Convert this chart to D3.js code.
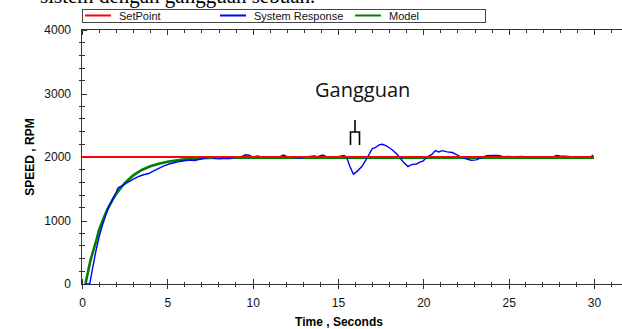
<!DOCTYPE html>
<html>
<head>
<meta charset="utf-8">
<script src="https://cdn.jsdelivr.net/npm/d3@7"></script>
<style>
  body { margin: 0; background: #fff; }
  svg { display: block; }
  .axis path, .axis line { stroke: #333; shape-rendering: crispEdges; }
  .axis text { fill: #111; font-family: Arial, "Liberation Sans", sans-serif; font-size: 12px; }
</style>
</head>
<body>
<div id="chart"></div>
<script>
// values
const setpointTime = [0, 30];
const setpointSpeed = [2000, 2000];

const modelTime = [0.2, 0.5, 0.8, 1, 1.3, 1.5, 1.8, 2, 2.5, 3, 3.5, 4, 4.5, 5, 6, 7, 8, 9, 30];
const modelSpeed = [0, 375, 650, 850, 1060, 1185, 1330, 1420, 1590, 1710, 1795, 1855, 1895, 1925, 1962, 1980, 1988, 1990, 1990];

const responseTime = [0.2, 0.45, 0.6, 0.8, 1.0, 1.2, 1.4, 1.6, 1.8, 2.0, 2.1, 2.2, 2.4, 2.6, 2.8, 3.0, 3.3, 3.6, 3.9,
  4.2, 4.5, 4.8, 5.1, 5.4, 5.7, 6.0, 6.3, 6.6, 6.9, 7.2, 7.5, 7.8, 8.1, 8.4, 8.7, 9.0, 9.3, 9.6, 9.8, 10.0,
  10.3, 10.5, 11.0, 11.6, 11.8, 12.0, 12.4, 12.8, 13.1, 13.6, 13.8, 14.1, 14.3, 14.6, 15.0, 15.35, 15.5, 15.7,
  15.9, 16.1, 16.4, 16.6, 16.8, 17.0, 17.2, 17.4, 17.6, 17.8, 18.1, 18.4, 18.6, 18.8, 19.1, 19.3, 19.6, 19.8,
  20.0, 20.2, 20.5, 20.7, 20.9, 21.1, 21.4, 21.7, 22.0, 22.2, 22.5, 22.8, 23.1, 23.4, 23.7, 24.0, 24.4, 24.7,
  25.0, 25.2, 25.8, 26.0, 27.6, 27.8, 28.0, 28.5, 28.7, 29.8, 29.95];
const responseSpeed = [0, 0, 220, 500, 740, 930, 1090, 1230, 1340, 1440, 1510, 1530, 1550, 1590, 1620, 1650, 1690, 1720, 1740,
  1780, 1820, 1860, 1890, 1910, 1930, 1940, 1950, 1945, 1965, 1985, 2000, 1975, 1970, 1980, 1975, 1995, 2000, 2035, 2030, 2000,
  2015, 2000, 2000, 2005, 2030, 2010, 1990, 1985, 2000, 2015, 2005, 2030, 2010, 2000, 2005, 2025, 2000, 1850,
  1730, 1770, 1850, 1940, 2030, 2130, 2150, 2190, 2200, 2180, 2130, 2060, 2000, 1930, 1850, 1880, 1890, 1920,
  1940, 2000, 2040, 2100, 2080, 2100, 2080, 2070, 2030, 2000, 1970, 1950, 1955, 1990, 2020, 2025, 2025, 2005,
  2010, 2000, 2010, 2000, 2000, 2025, 2015, 2010, 2000, 2000, 2030];

const xTicks = [0, 5, 10, 15, 20, 25, 30];
const yTicks = [0, 1000, 2000, 3000, 4000];
const legendNames = ["SetPoint", "System Response", "Model"];
const legendColors = ["#ff0000", "#0000ff", "#008000"];

const width = 622, height = 329;
const svg = d3.select("#chart").append("svg")
  .attr("width", width).attr("height", height);

// cut-off caption line from the page above the chart
svg.append("text")
  .attr("x", 40).attr("y", 3)
  .attr("font-family", "'Liberation Serif', 'Times New Roman', serif")
  .attr("font-size", 21)
  .attr("fill", "#000")
  .text("sistem dengan gangguan sebuah.");

const x = d3.scaleLinear().domain([0, 32]).range([82, 82 + 32 * 17.067]);
const y = d3.scaleLinear().domain([0, 4000]).range([284, 30]);

// top frame line with ticks pointing down
const topAxis = svg.append("g").attr("class", "axis");
topAxis.append("line").attr("x1", 81).attr("x2", width).attr("y1", 29.5).attr("y2", 29.5).attr("stroke", "#888");
topAxis.selectAll(".tk").data(d3.range(0, 32, 1)).enter().append("line")
  .attr("x1", d => Math.round(x(d)) + 0.5).attr("x2", d => Math.round(x(d)) + 0.5)
  .attr("y1", 29.5).attr("y2", d => d % 5 === 0 ? 35 : 32.5)
  .attr("stroke", "#555");

// bottom axis
const gx = svg.append("g").attr("class", "axis")
  .attr("transform", "translate(0,284)")
  .call(d3.axisBottom(x).tickValues(xTicks).tickSize(5).tickPadding(9).tickFormat(d3.format("d")));
gx.select(".domain").remove();
gx.append("line").attr("x1", 81).attr("x2", width).attr("stroke", "#333");
gx.selectAll(".tick line").attr("y1", -5);
gx.selectAll(".minor").data(d3.range(1, 32, 1).filter(d => d % 5 !== 0)).enter().append("line")
  .attr("x1", d => x(d)).attr("x2", d => x(d)).attr("y1", -2.5).attr("y2", 2.5).attr("stroke", "#333");

// left axis
const gy = svg.append("g").attr("class", "axis")
  .attr("transform", "translate(81,0)")
  .call(d3.axisLeft(y).tickValues(yTicks).tickSize(4).tickPadding(6).tickFormat(d3.format("d")));
gy.select(".domain").remove();
gy.append("line").attr("y1", 29.5).attr("y2", 284).attr("stroke", "#333");
gy.selectAll(".tick line").attr("x2", 6);
gy.selectAll(".minor").data(d3.range(200, 4000, 200).filter(d => d % 1000 !== 0)).enter().append("line")
  .attr("y1", d => y(d)).attr("y2", d => y(d)).attr("x1", -2).attr("x2", 4).attr("stroke", "#333");

// axis titles
svg.append("text")
  .attr("transform", "translate(34,157) rotate(-90)")
  .attr("text-anchor", "middle")
  .attr("font-family", "Arial, 'Liberation Sans', sans-serif")
  .attr("font-size", 12).attr("font-weight", "bold")
  .text("SPEED , RPM");
svg.append("text")
  .attr("x", 339).attr("y", 326)
  .attr("text-anchor", "middle")
  .attr("font-family", "Arial, 'Liberation Sans', sans-serif")
  .attr("font-size", 12).attr("font-weight", "bold")
  .text("Time , Seconds");

// series
const line = d3.line().x(d => x(d[0])).y(d => y(d[1]));
svg.append("path").datum(d3.zip(modelTime, modelSpeed))
  .attr("d", line).attr("fill", "none").attr("stroke", legendColors[2]).attr("stroke-width", 2.6);
svg.append("path").datum(d3.zip(responseTime, responseSpeed))
  .attr("d", line).attr("fill", "none").attr("stroke", legendColors[1]).attr("stroke-width", 1.4);
svg.append("path").datum(d3.zip(setpointTime, setpointSpeed))
  .attr("d", line).attr("fill", "none").attr("stroke", legendColors[0]).attr("stroke-width", 1.8);

// annotation
svg.append("text")
  .attr("x", 315).attr("y", 97)
  .attr("font-family", "'Open Sans', Lato, sans-serif")
  .attr("font-size", 20)
  .attr("fill", "#111")
  .text("Gangguan");
svg.append("path")
  .attr("d", "M355,120 V132 M350.5,145 V132 H359.5 V145")
  .attr("fill", "none").attr("stroke", "#000").attr("stroke-width", 1.6);

// legend
const legend = svg.append("g");
legend.append("rect").attr("x", 82.5).attr("y", 9.5).attr("width", 403).attr("height", 13)
  .attr("fill", "#fff").attr("stroke", "#444");
const legendX = [85, 220, 355];
legendNames.forEach((n, i) => {
  legend.append("line").attr("x1", legendX[i]).attr("x2", legendX[i] + 26)
    .attr("y1", 15.5).attr("y2", 15.5).attr("stroke", legendColors[i]).attr("stroke-width", 2);
  legend.append("text").attr("x", legendX[i] + 34).attr("y", 19.5)
    .attr("font-family", "Arial, 'Liberation Sans', sans-serif").attr("font-size", 11)
    .attr("fill", "#111").text(n);
});
</script>
</body>
</html>
